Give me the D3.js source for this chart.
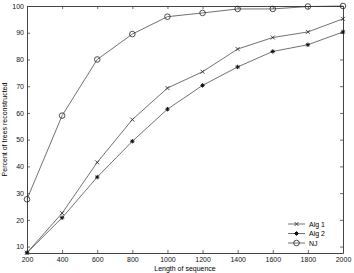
<!DOCTYPE html>
<html>
<head>
<meta charset="utf-8">
<script src="https://cdn.jsdelivr.net/npm/d3@7"></script>
<style>
body { margin: 0; background: #fff; }
text { font-family: "Liberation Sans", Arial, sans-serif; }
</style>
</head>
<body>
<div id="chart"></div>
<script>
var lengths = [200, 400, 600, 800, 1000, 1200, 1400, 1600, 1800, 2000];
var alg1 = [7.7, 22.5, 41.5, 57.5, 69.3, 75.4, 83.9, 88.2, 90.3, 95.2];
var alg2 = [7.7, 20.8, 36, 49.4, 61.4, 70.3, 77.2, 83, 85.5, 90.3];
var nj = [27.7, 59, 80, 89.5, 96, 97.4, 98.9, 98.9, 99.8, 100];
var xTicks = [200, 400, 600, 800, 1000, 1200, 1400, 1600, 1800, 2000];
var yTicks = [10, 20, 30, 40, 50, 60, 70, 80, 90, 100];

var W = 354, H = 273;
var margin = {top: 6, right: 11, bottom: 20, left: 27},
    width = W - margin.left - margin.right,
    height = H - margin.top - margin.bottom;

var svg = d3.select("#chart")
    .append("svg")
    .attr("width", W)
    .attr("height", H)
    .append("g")
    .attr("transform", "translate(" + margin.left + "," + margin.top + ")");

var x = d3.scaleLinear().domain([200, 2000]).range([0, width]);
var y = d3.scaleLinear().domain([7.6, 100]).range([height, 0]);

// axes, ticks inward on all four sides
var ax = "#444";
svg.append("g")
    .attr("transform", "translate(0," + height + ")")
    .call(d3.axisBottom(x).tickValues(xTicks).tickSizeInner(-3).tickSizeOuter(0).tickPadding(4).tickFormat(d3.format("d")));
svg.append("g")
    .call(d3.axisTop(x).tickValues(xTicks).tickSizeInner(-3).tickSizeOuter(0).tickFormat(""));
svg.append("g")
    .call(d3.axisLeft(y).tickValues(yTicks).tickSizeInner(-3).tickSizeOuter(0).tickPadding(3));
svg.append("g")
    .attr("transform", "translate(" + width + ",0)")
    .call(d3.axisRight(y).tickValues(yTicks).tickSizeInner(-3).tickSizeOuter(0).tickFormat(""));
svg.selectAll(".domain").attr("stroke", ax).attr("stroke-width", 1);
svg.selectAll(".tick line").attr("stroke", ax).attr("stroke-width", 0.8);
svg.selectAll(".tick text").attr("font-size", 7).attr("fill", "#111")
    .attr("font-family", "Liberation Sans, Arial, sans-serif");

// axis labels
svg.append("text")
    .attr("x", width / 2)
    .attr("y", height + 18)
    .attr("text-anchor", "middle")
    .attr("font-size", 7)
    .text("Length of sequence");
svg.append("text")
    .attr("transform", "translate(" + (-20) + "," + (height / 2) + ")rotate(-90)")
    .attr("text-anchor", "middle")
    .attr("font-size", 7)
    .text("Percent of trees reconstructed");

var series = [
    {name: "Alg 1", values: alg1, marker: "x"},
    {name: "Alg 2", values: alg2, marker: "star"},
    {name: "NJ", values: nj, marker: "o"}
];

var line = d3.line()
    .x(function(d, i) { return x(lengths[i]); })
    .y(function(d) { return y(d); });

function drawMarker(g, type, cx, cy) {
    if (type === "o") {
        g.append("circle").attr("cx", cx).attr("cy", cy).attr("r", 2.8)
            .attr("fill", "none").attr("stroke", "#222").attr("stroke-width", 0.8);
    } else if (type === "x") {
        var s = 2;
        g.append("path")
            .attr("d", "M" + (cx - s) + "," + (cy - s) + "L" + (cx + s) + "," + (cy + s) +
                "M" + (cx - s) + "," + (cy + s) + "L" + (cx + s) + "," + (cy - s))
            .attr("stroke", "#222").attr("stroke-width", 0.8);
    } else {
        var r = 2.2;
        g.append("path")
            .attr("d", "M" + (cx - r) + "," + cy + "L" + (cx + r) + "," + cy +
                "M" + cx + "," + (cy - r) + "L" + cx + "," + (cy + r) +
                "M" + (cx - r * 0.7) + "," + (cy - r * 0.7) + "L" + (cx + r * 0.7) + "," + (cy + r * 0.7) +
                "M" + (cx - r * 0.7) + "," + (cy + r * 0.7) + "L" + (cx + r * 0.7) + "," + (cy - r * 0.7))
            .attr("stroke", "#111").attr("stroke-width", 1);
    }
}

series.forEach(function(s) {
    svg.append("path")
        .datum(s.values)
        .attr("d", line)
        .attr("fill", "none")
        .attr("stroke", "#333")
        .attr("stroke-width", 0.7);
    var g = svg.append("g");
    s.values.forEach(function(v, i) {
        drawMarker(g, s.marker, x(lengths[i]), y(v));
    });
});

// legend
var legend = svg.append("g").attr("transform", "translate(261,218)");
series.forEach(function(s, i) {
    var ly = i * 9.5;
    legend.append("line").attr("x1", 0).attr("x2", 17).attr("y1", ly).attr("y2", ly)
        .attr("stroke", "#333").attr("stroke-width", 0.7);
    drawMarker(legend, s.marker, 8.5, ly);
    legend.append("text").attr("x", 21).attr("y", ly + 2.5).attr("font-size", 7).text(s.name);
});
</script>
</body>
</html>
